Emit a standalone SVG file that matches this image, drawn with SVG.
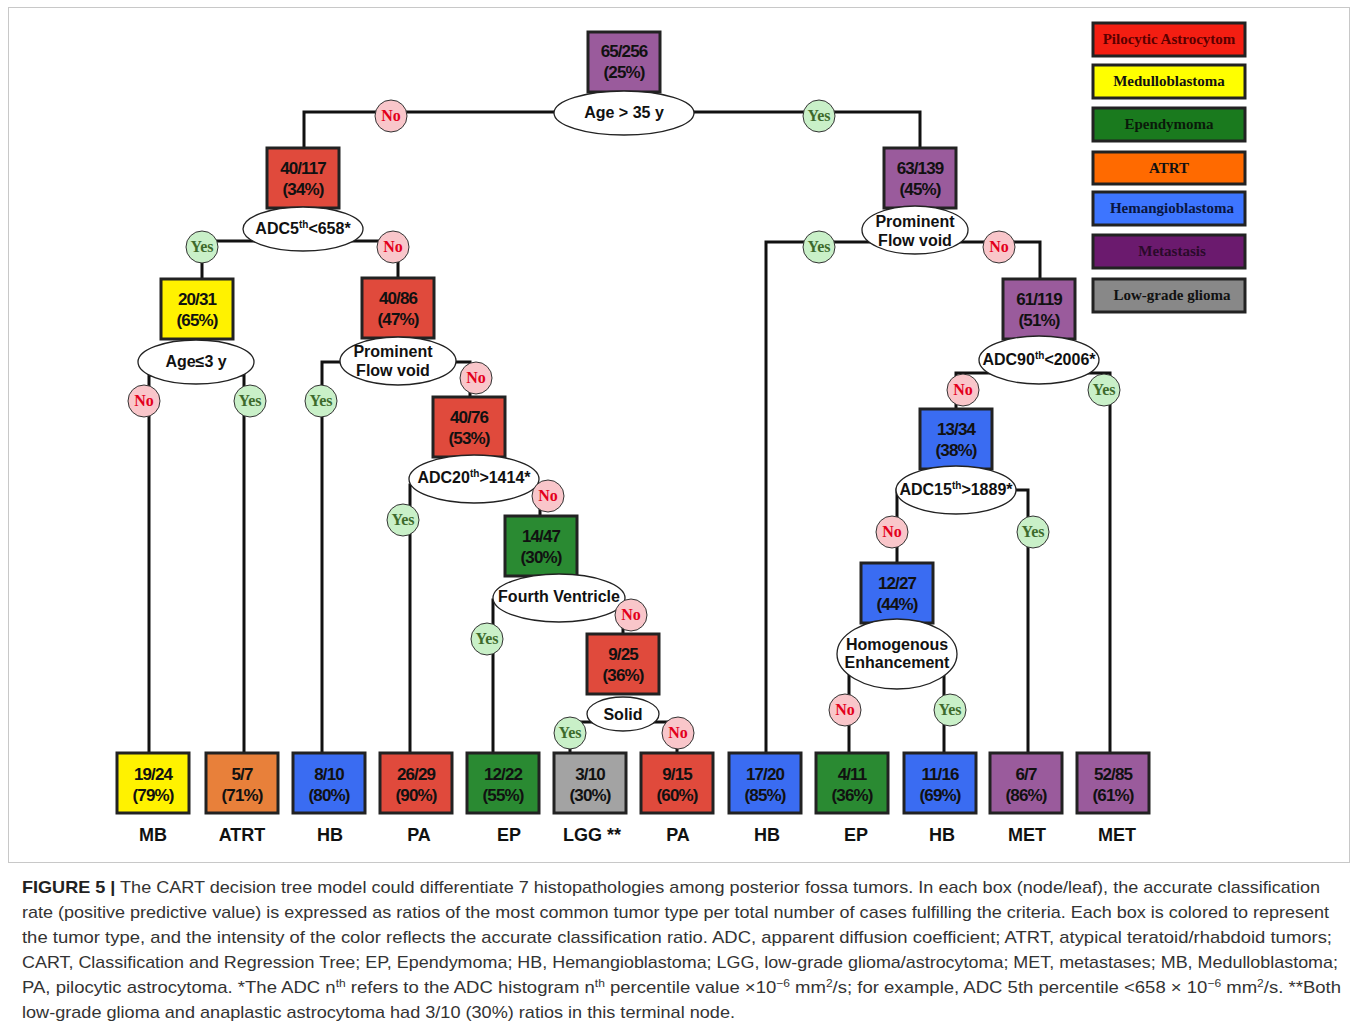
<svg xmlns="http://www.w3.org/2000/svg" width="1357" height="1033" viewBox="0 0 1357 1033">
<style>
.bx{stroke:#222;stroke-width:3}
.red{fill:#e04a3c}.pur{fill:#9a5b9c}.yel{fill:#fff200}.grn{fill:#2a8a32}.blu{fill:#3a6cf2}.org{fill:#e8803a}.gry{fill:#a3a3a3}
.nt{font-family:"Liberation Sans",Arial,sans-serif;font-weight:bold;font-size:17px;fill:#111;text-anchor:middle;letter-spacing:-0.9px}
.el{fill:#fff;stroke:#222;stroke-width:1.3}
.et{font-family:"Liberation Sans",Arial,sans-serif;font-weight:bold;font-size:16px;fill:#111;text-anchor:middle}
.sup{font-size:10px}
.cn{fill:none;stroke:#111;stroke-width:3}
.no{fill:#f9c6ca;stroke:#333;stroke-width:1}
.yes{fill:#c9f0c8;stroke:#333;stroke-width:1}
.nol{font-family:"Liberation Serif","Times New Roman",serif;font-weight:bold;font-size:16px;fill:#e3001b;text-anchor:middle}
.yesl{font-family:"Liberation Serif","Times New Roman",serif;font-weight:bold;font-size:16px;fill:#3d6a2c;text-anchor:middle}
.lab{font-family:"Liberation Sans",Arial,sans-serif;font-weight:bold;font-size:18px;fill:#111;text-anchor:middle}
.lg{stroke:#222;stroke-width:3}
.lt{font-family:"Liberation Serif","Times New Roman",serif;font-weight:bold;font-size:15px;text-anchor:middle}
.cap{font-family:"Liberation Sans",Arial,sans-serif;font-size:17px;fill:#333}
</style>
<rect x="0" y="0" width="1357" height="1033" fill="#fff"/>
<rect x="8.5" y="7.5" width="1341" height="855" fill="none" stroke="#c8c8c8" stroke-width="1"/>

<g id="connectors">
<path class="cn" d="M304,148 V112 H920 V148"/>
<path class="cn" d="M202,279 V241 H398 V278"/>
<path class="cn" d="M149,753 V375 H244 V753"/>
<path class="cn" d="M322,753 V362 H470 V397"/>
<path class="cn" d="M410,753 V485 H540 V516"/>
<path class="cn" d="M493,753 V600 H623 V634"/>
<path class="cn" d="M570,753 V722 H677 V753"/>
<path class="cn" d="M766,753 V242 H1040 V279"/>
<path class="cn" d="M956,409 V373 H1110 V753"/>
<path class="cn" d="M897,563 V490 H1028 V753"/>
<path class="cn" d="M849,753 V660 H944 V753"/>
</g>

<g id="n-root"><rect class="bx pur" x="588" y="32" width="72" height="60"/><text class="nt" x="624" y="57">65/256</text><text class="nt" x="624" y="78">(25%)</text>
<ellipse class="el" cx="624" cy="113" rx="70" ry="22"/><text class="et" x="624" y="118">Age &gt; 35 y</text></g>

<g id="n-40-117"><rect class="bx red" x="267" y="148" width="72" height="60"/><text class="nt" x="303" y="174">40/117</text><text class="nt" x="303" y="195">(34%)</text>
<ellipse class="el" cx="303" cy="229" rx="60" ry="22"/><text class="et" x="303" y="234">ADC5<tspan class="sup" dy="-6">th</tspan><tspan dy="6">&lt;658*</tspan></text></g>

<g id="n-20-31"><rect class="bx yel" x="161" y="279" width="72" height="60"/><text class="nt" x="197" y="305">20/31</text><text class="nt" x="197" y="326">(65%)</text>
<ellipse class="el" cx="196" cy="362" rx="58" ry="22"/><text class="et" x="196" y="367">Age≤3 y</text></g>

<g id="n-40-86"><rect class="bx red" x="362" y="278" width="72" height="60"/><text class="nt" x="398" y="304">40/86</text><text class="nt" x="398" y="325">(47%)</text>
<ellipse class="el" cx="398" cy="361" rx="58" ry="24"/><text class="et" x="393" y="357">Prominent</text><text class="et" x="393" y="376">Flow void</text></g>

<g id="n-40-76"><rect class="bx red" x="433" y="397" width="72" height="60"/><text class="nt" x="469" y="423">40/76</text><text class="nt" x="469" y="444">(53%)</text>
<ellipse class="el" cx="474" cy="479" rx="65" ry="24"/><text class="et" x="474" y="483">ADC20<tspan class="sup" dy="-6">th</tspan><tspan dy="6">&gt;1414*</tspan></text></g>

<g id="n-14-47"><rect class="bx grn" x="505" y="516" width="72" height="60"/><text class="nt" x="541" y="542">14/47</text><text class="nt" x="541" y="563">(30%)</text>
<ellipse class="el" cx="559" cy="598" rx="66" ry="24"/><text class="et" x="559" y="602">Fourth Ventricle</text></g>

<g id="n-9-25"><rect class="bx red" x="587" y="634" width="72" height="60"/><text class="nt" x="623" y="660">9/25</text><text class="nt" x="623" y="681">(36%)</text>
<ellipse class="el" cx="623" cy="714" rx="36" ry="17"/><text class="et" x="623" y="720">Solid</text></g>

<g id="n-63-139"><rect class="bx pur" x="884" y="148" width="72" height="60"/><text class="nt" x="920" y="174">63/139</text><text class="nt" x="920" y="195">(45%)</text>
<ellipse class="el" cx="915" cy="230" rx="53" ry="24"/><text class="et" x="915" y="227">Prominent</text><text class="et" x="915" y="246">Flow void</text></g>

<g id="n-61-119"><rect class="bx pur" x="1003" y="279" width="72" height="60"/><text class="nt" x="1039" y="305">61/119</text><text class="nt" x="1039" y="326">(51%)</text>
<ellipse class="el" cx="1039" cy="360" rx="60" ry="24"/><text class="et" x="1039" y="365">ADC90<tspan class="sup" dy="-6">th</tspan><tspan dy="6">&lt;2006*</tspan></text></g>

<g id="n-13-34"><rect class="bx blu" x="920" y="409" width="72" height="60"/><text class="nt" x="956" y="435">13/34</text><text class="nt" x="956" y="456">(38%)</text>
<ellipse class="el" cx="956" cy="490" rx="60" ry="24"/><text class="et" x="956" y="495">ADC15<tspan class="sup" dy="-6">th</tspan><tspan dy="6">&gt;1889*</tspan></text></g>

<g id="n-12-27"><rect class="bx blu" x="861" y="563" width="72" height="60"/><text class="nt" x="897" y="589">12/27</text><text class="nt" x="897" y="610">(44%)</text>
<ellipse class="el" cx="897" cy="654" rx="60" ry="35"/><text class="et" x="897" y="650">Homogenous</text><text class="et" x="897" y="668">Enhancement</text></g>

<g id="decisions">
<circle class="no" cx="391" cy="116" r="16"/><text class="nol" x="391" y="121">No</text>
<circle class="yes" cx="819" cy="116" r="16"/><text class="yesl" x="819" y="121">Yes</text>
<circle class="yes" cx="202" cy="247" r="16"/><text class="yesl" x="202" y="252">Yes</text>
<circle class="no" cx="393" cy="247" r="16"/><text class="nol" x="393" y="252">No</text>
<circle class="no" cx="144" cy="401" r="16"/><text class="nol" x="144" y="406">No</text>
<circle class="yes" cx="250" cy="401" r="16"/><text class="yesl" x="250" y="406">Yes</text>
<circle class="yes" cx="321" cy="401" r="16"/><text class="yesl" x="321" y="406">Yes</text>
<circle class="no" cx="476" cy="378" r="16"/><text class="nol" x="476" y="383">No</text>
<circle class="yes" cx="403" cy="520" r="16"/><text class="yesl" x="403" y="525">Yes</text>
<circle class="no" cx="548" cy="496" r="16"/><text class="nol" x="548" y="501">No</text>
<circle class="yes" cx="487" cy="639" r="16"/><text class="yesl" x="487" y="644">Yes</text>
<circle class="no" cx="631" cy="615" r="16"/><text class="nol" x="631" y="620">No</text>
<circle class="yes" cx="570" cy="733" r="16"/><text class="yesl" x="570" y="738">Yes</text>
<circle class="no" cx="678" cy="733" r="16"/><text class="nol" x="678" y="738">No</text>
<circle class="yes" cx="819" cy="247" r="16"/><text class="yesl" x="819" y="252">Yes</text>
<circle class="no" cx="999" cy="247" r="16"/><text class="nol" x="999" y="252">No</text>
<circle class="no" cx="963" cy="390" r="16"/><text class="nol" x="963" y="395">No</text>
<circle class="yes" cx="1104" cy="390" r="16"/><text class="yesl" x="1104" y="395">Yes</text>
<circle class="no" cx="892" cy="532" r="16"/><text class="nol" x="892" y="537">No</text>
<circle class="yes" cx="1033" cy="532" r="16"/><text class="yesl" x="1033" y="537">Yes</text>
<circle class="no" cx="845" cy="710" r="16"/><text class="nol" x="845" y="715">No</text>
<circle class="yes" cx="950" cy="710" r="16"/><text class="yesl" x="950" y="715">Yes</text>
</g>

<g id="leaf-mb"><rect class="bx yel" x="117" y="753" width="72" height="60"/><text class="nt" x="153" y="780">19/24</text><text class="nt" x="153" y="801">(79%)</text><text class="lab" x="153" y="841">MB</text></g>
<g id="leaf-atrt"><rect class="bx org" x="206" y="753" width="72" height="60"/><text class="nt" x="242" y="780">5/7</text><text class="nt" x="242" y="801">(71%)</text><text class="lab" x="242" y="841">ATRT</text></g>
<g id="leaf-hb1"><rect class="bx blu" x="293" y="753" width="72" height="60"/><text class="nt" x="329" y="780">8/10</text><text class="nt" x="329" y="801">(80%)</text><text class="lab" x="330" y="841">HB</text></g>
<g id="leaf-pa1"><rect class="bx red" x="380" y="753" width="72" height="60"/><text class="nt" x="416" y="780">26/29</text><text class="nt" x="416" y="801">(90%)</text><text class="lab" x="419" y="841">PA</text></g>
<g id="leaf-ep1"><rect class="bx grn" x="467" y="753" width="72" height="60"/><text class="nt" x="503" y="780">12/22</text><text class="nt" x="503" y="801">(55%)</text><text class="lab" x="509" y="841">EP</text></g>
<g id="leaf-lgg"><rect class="bx gry" x="554" y="753" width="72" height="60"/><text class="nt" x="590" y="780">3/10</text><text class="nt" x="590" y="801">(30%)</text><text class="lab" x="592" y="841">LGG **</text></g>
<g id="leaf-pa2"><rect class="bx red" x="641" y="753" width="72" height="60"/><text class="nt" x="677" y="780">9/15</text><text class="nt" x="677" y="801">(60%)</text><text class="lab" x="678" y="841">PA</text></g>
<g id="leaf-hb2"><rect class="bx blu" x="729" y="753" width="72" height="60"/><text class="nt" x="765" y="780">17/20</text><text class="nt" x="765" y="801">(85%)</text><text class="lab" x="767" y="841">HB</text></g>
<g id="leaf-ep2"><rect class="bx grn" x="816" y="753" width="72" height="60"/><text class="nt" x="852" y="780">4/11</text><text class="nt" x="852" y="801">(36%)</text><text class="lab" x="856" y="841">EP</text></g>
<g id="leaf-hb3"><rect class="bx blu" x="904" y="753" width="72" height="60"/><text class="nt" x="940" y="780">11/16</text><text class="nt" x="940" y="801">(69%)</text><text class="lab" x="942" y="841">HB</text></g>
<g id="leaf-met1"><rect class="bx pur" x="990" y="753" width="72" height="60"/><text class="nt" x="1026" y="780">6/7</text><text class="nt" x="1026" y="801">(86%)</text><text class="lab" x="1027" y="841">MET</text></g>
<g id="leaf-met2"><rect class="bx pur" x="1077" y="753" width="72" height="60"/><text class="nt" x="1113" y="780">52/85</text><text class="nt" x="1113" y="801">(61%)</text><text class="lab" x="1117" y="841">MET</text></g>

<g id="legend">
<rect class="lg" x="1093" y="23" width="152" height="33" fill="#f41e12"/><text class="lt" x="1169" y="44" fill="#5a0000">Pilocytic Astrocytom</text>
<rect class="lg" x="1093" y="65" width="152" height="33" fill="#ffff00"/><text class="lt" x="1169" y="86" fill="#111">Medulloblastoma</text>
<rect class="lg" x="1093" y="108" width="152" height="33" fill="#1a7a1e"/><text class="lt" x="1169" y="129" fill="#0a1a0a">Ependymoma</text>
<rect class="lg" x="1093" y="152" width="152" height="32" fill="#ff6a00"/><text class="lt" x="1169" y="173" fill="#111">ATRT</text>
<rect class="lg" x="1093" y="192" width="152" height="33" fill="#3d75ff"/><text class="lt" x="1172" y="213" fill="#0a1640">Hemangioblastoma</text>
<rect class="lg" x="1093" y="235" width="152" height="33" fill="#6b1a6e"/><text class="lt" x="1172" y="256" fill="#2a0a2a">Metastasis</text>
<rect class="lg" x="1093" y="279" width="152" height="33" fill="#888888"/><text class="lt" x="1172" y="300" fill="#111">Low-grade glioma</text>
</g>

<g id="caption">
<text class="cap" x="22" y="893" textLength="1298" lengthAdjust="spacingAndGlyphs"><tspan font-weight="bold" fill="#222">FIGURE 5 |</tspan> The CART decision tree model could differentiate 7 histopathologies among posterior fossa tumors. In each box (node/leaf), the accurate classification</text>
<text class="cap" x="22" y="918" textLength="1307" lengthAdjust="spacingAndGlyphs">rate (positive predictive value) is expressed as ratios of the most common tumor type per total number of cases fulfilling the criteria. Each box is colored to represent</text>
<text class="cap" x="22" y="943" textLength="1310" lengthAdjust="spacingAndGlyphs">the tumor type, and the intensity of the color reflects the accurate classification ratio. ADC, apparent diffusion coefficient; ATRT, atypical teratoid/rhabdoid tumors;</text>
<text class="cap" x="22" y="968" textLength="1316" lengthAdjust="spacingAndGlyphs">CART, Classification and Regression Tree; EP, Ependymoma; HB, Hemangioblastoma; LGG, low-grade glioma/astrocytoma; MET, metastases; MB, Medulloblastoma;</text>
<text class="cap" x="22" y="993" textLength="1319" lengthAdjust="spacingAndGlyphs">PA, pilocytic astrocytoma. *The ADC n<tspan font-size="11" dy="-6">th</tspan><tspan dy="6"> refers to the ADC histogram n</tspan><tspan font-size="11" dy="-6">th</tspan><tspan dy="6"> percentile value ×10</tspan><tspan font-size="11" dy="-6">−6</tspan><tspan dy="6"> mm</tspan><tspan font-size="11" dy="-6">2</tspan><tspan dy="6">/s; for example, ADC 5th percentile &lt;658 × 10</tspan><tspan font-size="11" dy="-6">−6</tspan><tspan dy="6"> mm</tspan><tspan font-size="11" dy="-6">2</tspan><tspan dy="6">/s. **Both</tspan></text>
<text class="cap" x="22" y="1018" textLength="713" lengthAdjust="spacingAndGlyphs">low-grade glioma and anaplastic astrocytoma had 3/10 (30%) ratios in this terminal node.</text>
</g>
</svg>
